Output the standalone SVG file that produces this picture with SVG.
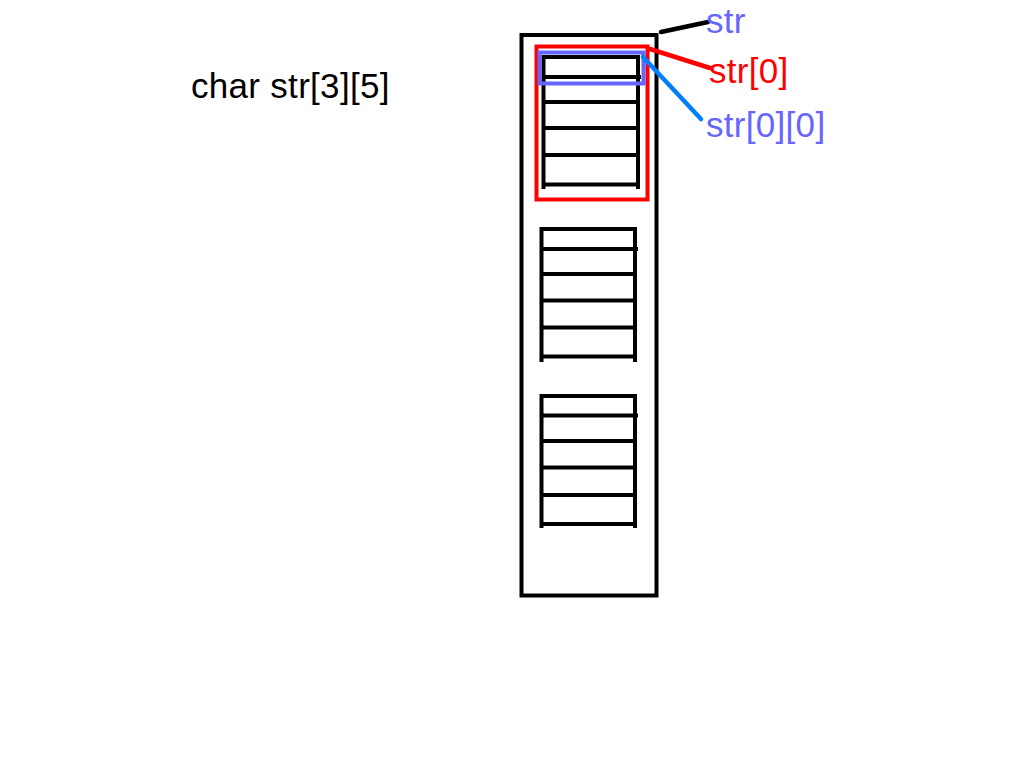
<svg xmlns="http://www.w3.org/2000/svg" width="1024" height="768" viewBox="0 0 1024 768">
<style>
.k{stroke:#000;stroke-width:4;fill:none}
.t{font-family:"Liberation Sans",Arial,sans-serif;font-size:35px;letter-spacing:0.3px}
</style>
<rect width="1024" height="768" fill="#fff"/>
<g id="outer"><rect class="k" x="521.5" y="35" width="135" height="560.5"/></g>
<g id="row0" class="k">
<path d="M543.5 55V189M638 55V189M543.5 57H638M543.5 77H641M543.5 102H638M543.5 128H638M543.5 155H638M543.5 184.5H638"/>
</g>
<g id="row1" class="k">
<path d="M541.5 227V362M635 227V362M541.5 229H635M541.5 249H638M541.5 274H635M541.5 300.5H635M541.5 327.5H635M541.5 356.5H635"/>
</g>
<g id="row2" class="k">
<path d="M541.5 394V528M635 394V528M541.5 396H635M541.5 415.5H638M541.5 441H635M541.5 467.5H635M541.5 495H635M541.5 524H635"/>
</g>
<g id="str0"><rect x="536.5" y="46.5" width="111" height="153" fill="none" stroke="#f00" stroke-width="4"/></g>
<g id="str00"><rect x="539.5" y="52.5" width="104" height="31" fill="none" stroke="#6666ff" stroke-width="4"/></g>
<g id="connectors" stroke-width="4.5" stroke-linecap="round">
<line x1="661" y1="32" x2="708" y2="22" stroke="#000"/>
<line x1="650" y1="49" x2="710" y2="68" stroke="#f00"/>
<line x1="643" y1="57" x2="701" y2="119" stroke="#0080ff"/>
</g>
<g id="labels" class="t">
<text x="191" y="98" fill="#000">char str[3][5]</text>
<text x="706" y="33" fill="#6666ff">str</text>
<text x="709" y="83" fill="#f00">str[0]</text>
<text x="706" y="137" fill="#6666ff">str[0][0]</text>
</g>
</svg>
